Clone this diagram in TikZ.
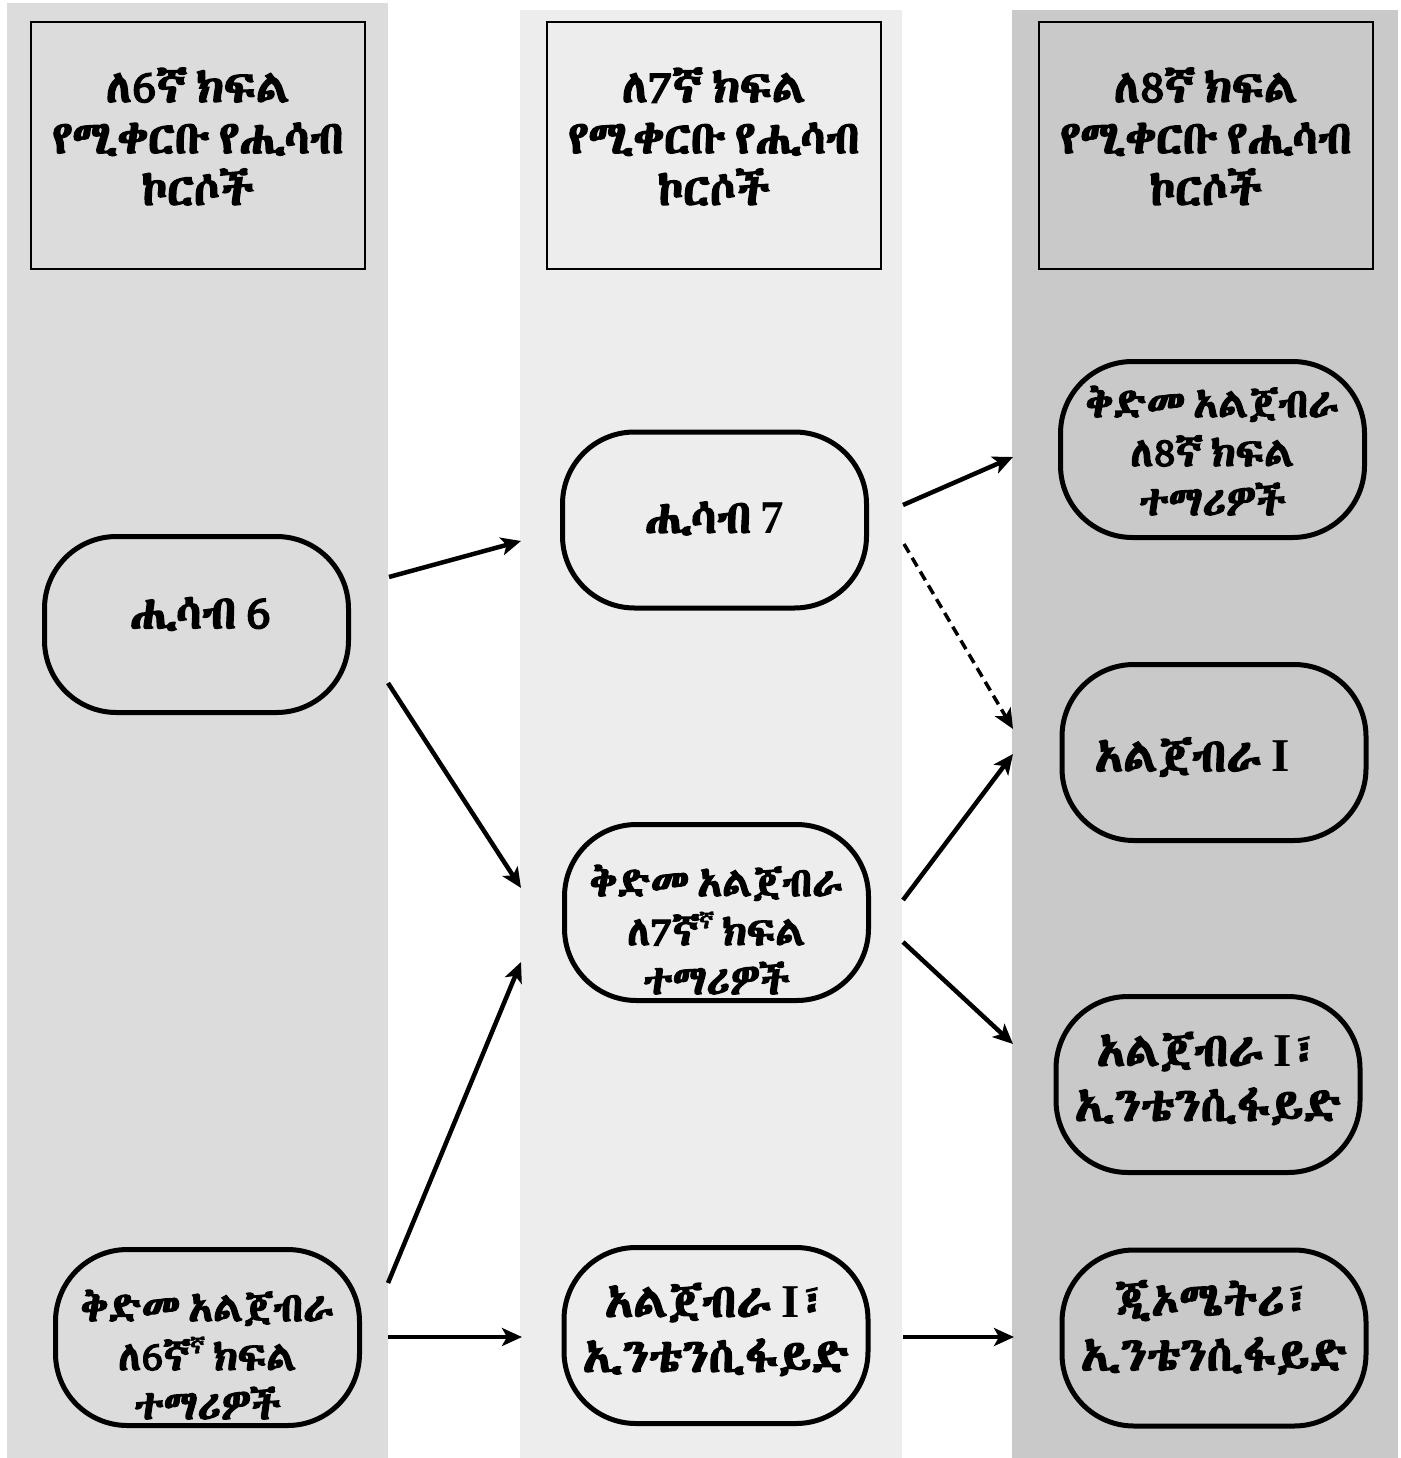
\documentclass[tikz,border=0pt]{standalone}
\usepackage{fontspec}
\usetikzlibrary{arrows.meta}
\IfFontExistsTF{Abyssinica SIL}{%
  \newfontfamily\eth[Script=Ethiopic,AutoFakeBold=3,WordSpace=0.45]{Abyssinica SIL}}{%
\IfFontExistsTF{Noto Sans Ethiopic}{%
  \newfontfamily\eth[Script=Ethiopic,WordSpace=0.45]{Noto Sans Ethiopic}}{%
\IfFontExistsTF{Noto Serif Ethiopic}{%
  \newfontfamily\eth[Script=Ethiopic,WordSpace=0.45]{Noto Serif Ethiopic}}{%
\IfFontExistsTF{FreeSerif}{%
  \newfontfamily\eth[WordSpace=0.45]{FreeSerif}}{%
  \newfontfamily\eth{DejaVu Sans}}}}}
\newfontfamily\latn{Liberation Serif}
\newcommand{\hfont}{\eth\bfseries\fontsize{46}{51}\selectfont}
\newcommand{\cfont}{\eth\bfseries\fontsize{41}{49}\selectfont}
\newcommand{\bfont}{\eth\bfseries\fontsize{47}{55}\selectfont}
\newcommand{\supnya}{{\fontsize{22}{22}\selectfont\raisebox{17pt}{ኛ}}}
% shifted multi-line text: #1 = horizontal shift, #2 = vertical shift (up), #3 = lines
\newcommand{\tb}[3]{\hspace*{#1}\raisebox{#2}[\height][\depth]{\begin{tabular}{@{}c@{}}#3\end{tabular}}\hspace*{-#1}}
\definecolor{colA}{HTML}{DCDCDC}
\definecolor{colB}{HTML}{EDEDED}
\definecolor{colC}{HTML}{C9C9C9}
\tikzset{
  hdr/.style={draw, line width=2pt, minimum width=334pt, minimum height=247pt, align=center, font=\hfont, inner sep=0pt},
  crs/.style={draw, line width=5pt, rounded corners=72pt, minimum width=304pt, minimum height=176pt, align=center, inner sep=0pt},
  arr/.style={line width=4.5pt, -{Stealth[length=20pt,width=18pt,inset=5pt]}}
}
\begin{document}
\begin{tikzpicture}[x=1pt,y=-1pt]
\useasboundingbox (0,0) rectangle (1400,1458);
\fill[white] (0,0) rectangle (1400,1458);
% columns
\fill[colA] (7,3) rectangle (388,1458);
\fill[colB] (520,10) rectangle (902,1458);
\fill[colC] (1012,10) rectangle (1398,1458);
% headers
\node[hdr] (h6) at (198,145.5) {\tb{0pt}{2pt}{ለ6ኛ ክፍል\\የሚቀርቡ የሒሳብ\\ኮርሶች}};
\node[hdr] (h7) at (714,145.5) {\tb{0pt}{2pt}{ለ7ኛ ክፍል\\የሚቀርቡ የሒሳብ\\ኮርሶች}};
\node[hdr] (h8) at (1206,145.5) {\tb{0pt}{2pt}{ለ8ኛ ክፍል\\የሚቀርቡ የሒሳብ\\ኮርሶች}};
% course boxes
\node[crs, font=\bfont] (m6) at (196.5,624.5) {\tb{4pt}{7pt}{ሒሳብ 6}};
\node[crs, font=\cfont] (p6) at (207.5,1337.5) {\tb{0pt}{-23pt}{ቅድመ አልጀብራ\\ለ6ኛ\supnya{} ክፍል\\ተማሪዎች}};
\node[crs, font=\bfont] (m7) at (714.5,520) {\tb{0pt}{-2pt}{ሒሳብ {\latn 7}}};
\node[crs, font=\cfont] (p7) at (716.5,912.5) {\tb{0pt}{-23pt}{ቅድመ አልጀብራ\\ለ7ኛ\supnya{} ክፍል\\ተማሪዎች}};
\node[crs, font=\bfont] (ai7) at (716,1335.5) {\tb{0pt}{2pt}{አልጀብራ {\latn I}፣\\ኢንቴንሲፋይድ}};
\node[crs, font=\cfont] (p8) at (1212.5,449.5) {\tb{0pt}{-7pt}{ቅድመ አልጀብራ\\ለ8ኛ ክፍል\\ተማሪዎች}};
\node[crs, font=\bfont] (a1) at (1214,752.5) {\tb{-22pt}{-8pt}{አልጀብራ {\latn I}}};
\node[crs, font=\bfont] (ai8) at (1208,1084.5) {\tb{0pt}{2pt}{አልጀብራ {\latn I}፣\\ኢንቴንሲፋይድ}};
\node[crs, font=\bfont] (geo) at (1214,1338) {\tb{0pt}{6pt}{ጂኦሜትሪ፣\\ኢንቴንሲፋይድ}};
% arrow end points at column edges
\coordinate (s1) at (389,577);   \coordinate (e1) at (521,541);
\coordinate (s2) at (388,683);   \coordinate (e2) at (521,888);
\coordinate (s3) at (388,1283);  \coordinate (e3) at (521,962);
\coordinate (s4) at (388,1337);  \coordinate (e4) at (522,1337);
\coordinate (s5) at (903,505);   \coordinate (e5) at (1013,457);
\coordinate (s6) at (904,544);   \coordinate (e6) at (1013,729);
\coordinate (s7) at (903,900);   \coordinate (e7) at (1013,754);
\coordinate (s8) at (903,942);   \coordinate (e8) at (1013,1044);
\coordinate (s9) at (903,1337);  \coordinate (e9) at (1014,1337);
\draw[arr] (s1) -- (e1);
\draw[arr] (s2) -- (e2);
\draw[arr] (s3) -- (e3);
\draw[arr] (s4) -- (e4);
\draw[arr] (s5) -- (e5);
\draw[arr, line width=3.5pt, dash pattern=on 10pt off 6pt] (s6) -- (e6);
\draw[arr] (s7) -- (e7);
\draw[arr] (s8) -- (e8);
\draw[arr] (s9) -- (e9);
\end{tikzpicture}
\end{document}
